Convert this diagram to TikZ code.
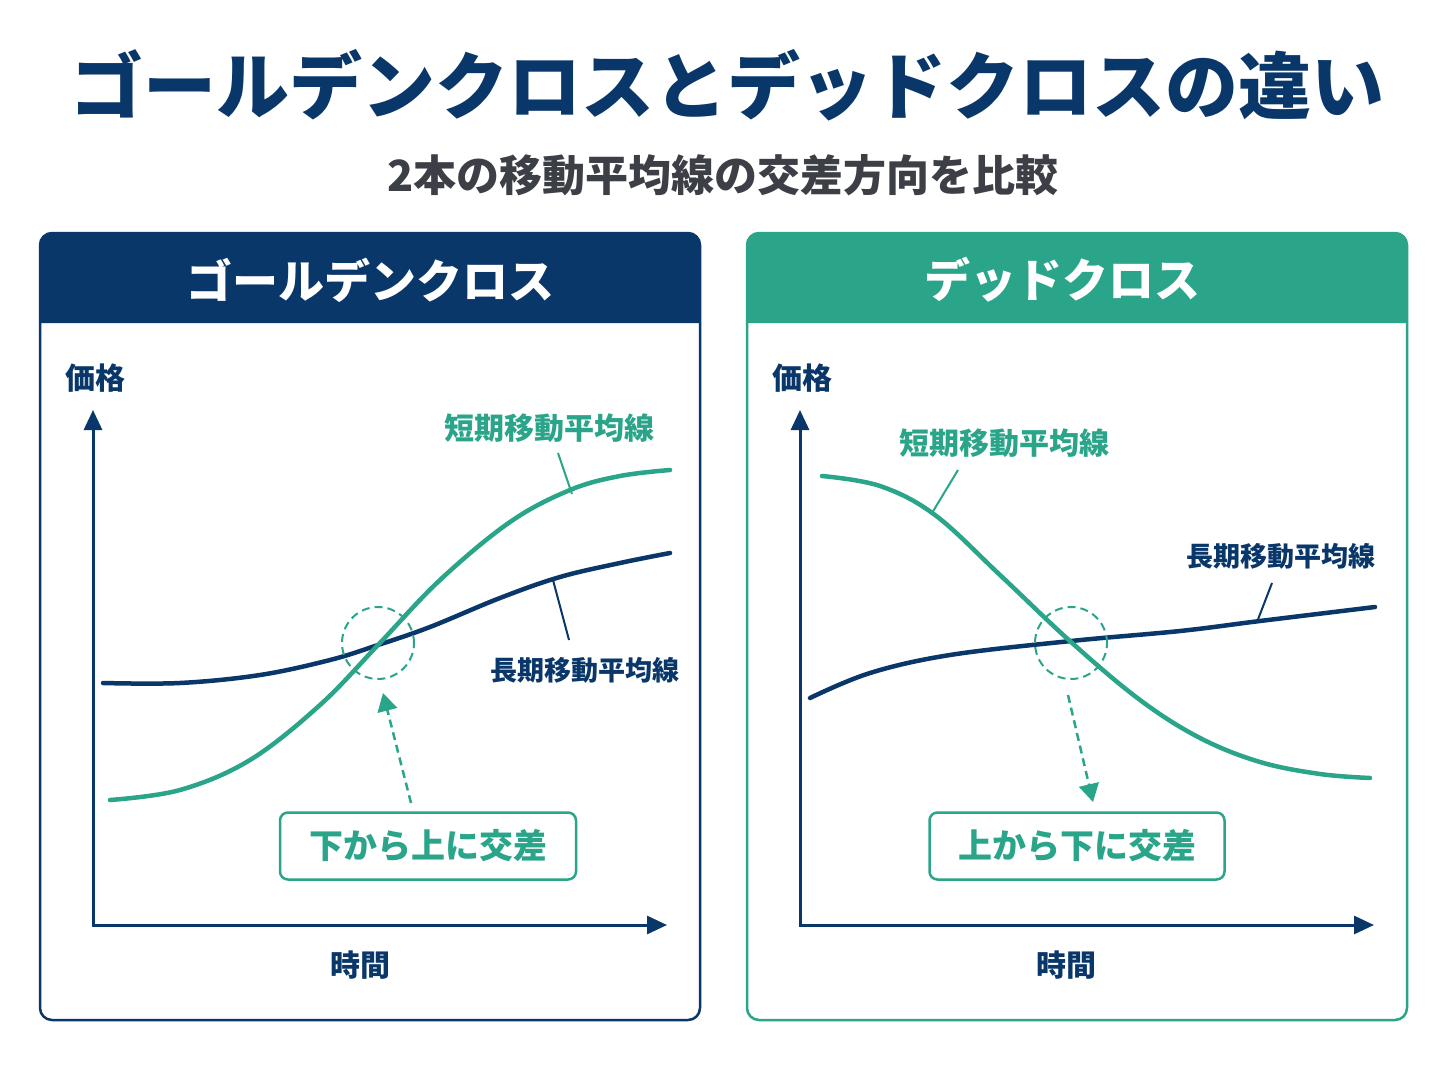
\documentclass[tikz,border=0pt]{standalone}
\usepackage{fontspec}
\setmainfont{Noto Sans CJK JP}
\usetikzlibrary{arrows.meta}
\definecolor{navy}{HTML}{0A376A}
\definecolor{gteal}{HTML}{2BA58A}
\definecolor{subgray}{HTML}{3C4046}
\begin{document}
\begin{tikzpicture}[x=1pt,y=-1pt,
  panel/.style={line width=2.5pt, rounded corners=12pt},
  headtext/.style={text=white, font=\bfseries\fontsize{46}{50}\selectfont},
  axislabel/.style={text=navy, font=\bfseries\fontsize{30}{34}\selectfont},
  axisline/.style={navy, line width=3pt, {Triangle[length=20pt,width=18pt]}-{Triangle[length=20pt,width=18pt]}},
  shortma/.style={gteal, line width=4.5pt, line cap=round},
  longma/.style={navy, line width=4.5pt, line cap=round},
  tlabel/.style={text=gteal, font=\bfseries\fontsize{30}{34}\selectfont},
  nlabel/.style={text=navy, font=\bfseries\fontsize{27}{32}\selectfont},
  leaderT/.style={gteal, line width=2pt},
  leaderN/.style={navy, line width=2pt},
  crossring/.style={circle, draw=gteal, dashed, line width=2pt, dash pattern=on 8pt off 5pt, minimum size=72pt, inner sep=0pt},
  dasharrow/.style={gteal, line width=2.5pt, dash pattern=on 8pt off 5pt, -{Triangle[length=18pt,width=20pt]}},
  crossbox/.style={draw=gteal, line width=2.5pt, rounded corners=8pt, minimum width=296pt, minimum height=67pt, text=gteal, font=\bfseries\fontsize{34}{40}\selectfont}
]
\useasboundingbox (0,0) rectangle (1448,1086);
\fill[white] (0,0) rectangle (1448,1086);

% Titles
\node[text=navy, font=\bfseries\fontsize{73}{80}\selectfont] (title) at (727,85) {ゴールデンクロスとデッドクロスの違い};
\node[text=subgray, font=\bfseries\fontsize{43}{48}\selectfont] (subtitle) at (723,175) {2本の移動平均線の交差方向を比較};

% ================= Left panel =================
\fill[navy] (40,323) {[rounded corners=12pt] -- (40,233) -- (700,233)} -- (700,323) -- cycle;
\draw[panel, navy] (40,233) rectangle (700,1020);
\node[headtext] (gh) at (370,280) {ゴールデンクロス};

\node[axislabel] (ly1) at (95,378) {価格};
\node[axislabel] (lx1) at (360,965) {時間};
\coordinate (ytop1) at (93,410);
\coordinate (xend1) at (667,925);
\draw[axisline] (ytop1) |- (xend1);

\draw[longma] plot[smooth, tension=0.6] coordinates {(103,683) (180,683) (260,675) (330,660) (378,645) (430,627) (500,598) (560,577) (620,563) (670,553)};
\draw[shortma] plot[smooth, tension=0.6] coordinates {(110,800) (180,790) (250,760) (320,705) (378,645) (440,580) (510,522) (570,490) (620,476) (670,470)};

\node[crossring] (c1) at (378,643) {};
\node[tlabel] (s1) at (549,428) {短期移動平均線};
\node[nlabel] (l1) at (585,670) {長期移動平均線};
\coordinate (s1a) at (558,453);
\coordinate (s1b) at (572,494);
\coordinate (l1a) at (569,640);
\coordinate (l1b) at (553,580);
\draw[leaderT] (s1a) -- (s1b);
\draw[leaderN] (l1a) -- (l1b);

\node[crossbox] (b1) at (428,846) {下から上に交差};
\coordinate (a1s) at (411,803);
\coordinate (a1e) at (383,693);
\draw[dasharrow] (a1s) -- (a1e);

% ================= Right panel =================
\fill[gteal] (747,323) {[rounded corners=12pt] -- (747,233) -- (1407,233)} -- (1407,323) -- cycle;
\draw[panel, gteal] (747,233) rectangle (1407,1020);
\node[headtext] (dh) at (1062,280) {デッドクロス};

\node[axislabel] (ly2) at (802,378) {価格};
\node[axislabel] (lx2) at (1066,965) {時間};
\coordinate (ytop2) at (800,410);
\coordinate (xend2) at (1374,925);
\draw[axisline] (ytop2) |- (xend2);

\draw[longma] plot[smooth, tension=0.6] coordinates {(810,698) (870,673) (950,655) (1071,641) (1180,631) (1260,621) (1375,607)};
\draw[shortma] plot[smooth, tension=0.6] coordinates {(822,476) (880,486) (935,515) (1000,575) (1071,642) (1140,700) (1200,738) (1260,762) (1320,774) (1370,778)};

\node[crossring] (c2) at (1071,643) {};
\node[tlabel] (s2) at (1004,443) {短期移動平均線};
\node[nlabel] (l2) at (1281,556) {長期移動平均線};
\coordinate (s2a) at (958,470);
\coordinate (s2b) at (932,513);
\coordinate (l2a) at (1272,583);
\coordinate (l2b) at (1257,622);
\draw[leaderT] (s2a) -- (s2b);
\draw[leaderN] (l2a) -- (l2b);

\node[crossbox, minimum width=295pt] (b2) at (1077,846) {上から下に交差};
\coordinate (a2s) at (1068,695);
\coordinate (a2e) at (1093,802);
\draw[dasharrow] (a2s) -- (a2e);
\end{tikzpicture}
\end{document}
